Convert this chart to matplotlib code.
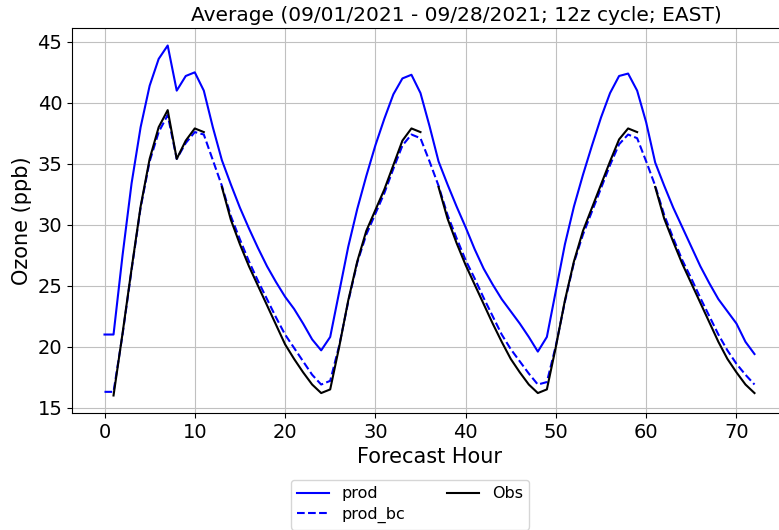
import numpy as np
import matplotlib
matplotlib.use("Agg")
import matplotlib.pyplot as plt

nan = np.nan

# forecast hours 0..72
hours = np.arange(0, 73)

prod = [21.0, 21.0, 27.5, 33.4, 38.0, 41.4, 43.6, 44.7, 41.0, 42.2,
        42.5, 41.0, 38.0, 35.3, 33.3, 31.4, 29.7, 28.1, 26.6, 25.3,
        24.1, 23.1, 21.9, 20.6, 19.7, 20.8, 24.5, 28.2, 31.3, 34.0,
        36.5, 38.7, 40.7, 42.0, 42.3, 40.8, 38.1, 35.2, 33.3, 31.5,
        29.8, 28.0, 26.4, 25.1, 23.9, 22.9, 21.9, 20.8, 19.6, 20.8,
        24.6, 28.4, 31.5, 34.1, 36.5, 38.8, 40.8, 42.2, 42.4, 41.0,
        38.4, 35.1, 33.2, 31.4, 29.8, 28.2, 26.6, 25.2, 23.9, 22.9,
        21.9, 20.4, 19.4]

prod_bc = [16.3, 16.3, 21.0, 26.3, 31.4, 35.2, 37.6, 39.0, 35.4, 36.7,
           37.6, 37.4, 35.3, 33.2, 30.7, 28.8, 27.0, 25.4, 23.9, 22.4,
           21.0, 19.9, 18.8, 17.7, 16.9, 17.2, 20.1, 23.7, 26.9, 29.2,
           30.9, 32.6, 34.6, 36.5, 37.4, 37.1, 35.2, 33.2, 30.8, 28.9,
           27.1, 25.6, 24.0, 22.5, 21.0, 19.8, 18.8, 17.8, 16.9, 17.1,
           20.1, 23.7, 26.9, 29.2, 31.1, 33.0, 34.9, 36.6, 37.4, 37.1,
           35.2, 33.2, 30.8, 28.9, 27.1, 25.6, 24.0, 22.5, 21.0, 19.7,
           18.6, 17.7, 16.9]

obs = [nan, 16.0, 21.1, 26.4, 31.5, 35.4, 38.0, 39.4, 35.4, 36.9,
       37.9, 37.6, nan, 33.1, 30.4, 28.4, 26.6, 25.0, 23.4, 21.8,
       20.2, 19.0, 17.9, 16.9, 16.2, 16.5, 20.0, 23.8, 27.0, 29.5,
       31.2, 32.9, 34.9, 36.9, 37.9, 37.6, nan, 33.1, 30.5, 28.5,
       26.7, 25.1, 23.5, 21.9, 20.4, 19.0, 17.9, 16.9, 16.2, 16.5,
       20.0, 23.8, 27.0, 29.5, 31.4, 33.3, 35.2, 37.0, 37.9, 37.6,
       nan, 33.1, 30.5, 28.6, 26.8, 25.2, 23.6, 22.0, 20.4, 19.0,
       17.9, 16.9, 16.2]

fig = plt.figure(figsize=(7.79, 5.30), dpi=100)
# axes runs a little past the right edge, as in the original
ax = fig.add_axes([72/779, 117/530, 715/779, 385/530])

ax.plot(hours, prod, color='blue', lw=1.5, label='prod')
ax.plot(hours, prod_bc, color='blue', lw=1.5, ls='--', label='prod_bc')
ax.plot(hours, obs, color='black', lw=1.5, label='Obs')

ax.set_xticks(np.arange(0, 80, 10))
ax.set_yticks(np.arange(15, 50, 5))
ax.tick_params(labelsize=14)
ax.grid(True, color='#c0c0c0')
ax.set_xlabel('Forecast Hour', fontsize=15)
ax.set_ylabel('Ozone (ppb)', fontsize=15)
ax.set_title('Average (09/01/2021 - 09/28/2021; 12z cycle; EAST)',
             fontsize=14.5, x=(456.5-72)/715, pad=5)

fig.legend(loc='upper center', bbox_to_anchor=(410/779, 1-472/530),
           ncol=2, fontsize=11.5, labelspacing=0.35, columnspacing=2.6)

fig.savefig('out.png', dpi=100)
